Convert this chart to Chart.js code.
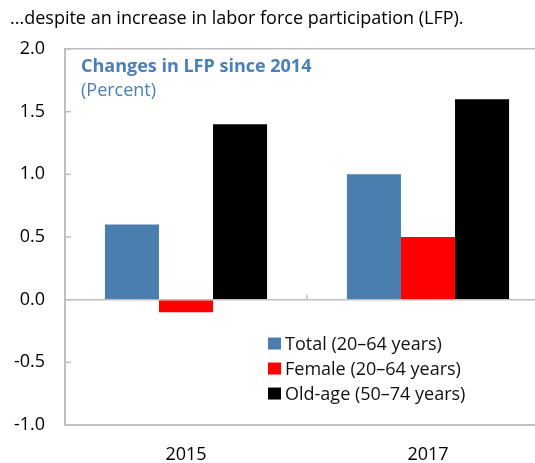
<!DOCTYPE html>
<html>
<head>
<meta charset="utf-8">
<script src="https://cdn.jsdelivr.net/npm/chart.js@4/dist/chart.umd.min.js"></script>
<style>
html,body{margin:0;padding:0;overflow:hidden;background:#fff;width:535px;height:463px;}
#wrap{width:550px;height:463px;}
</style>
</head>
<body>
<div id="wrap"><canvas id="c" width="550" height="463"></canvas></div>
<script>
const categories = ["2015", "2017"];
const totalValues = [0.6, 1.0];
const femaleValues = [-0.1, 0.5];
const oldAgeValues = [1.4, 1.6];
const seriesLabels = ["Total (20\u201364 years)", "Female (20\u201364 years)", "Old-age (50\u201374 years)"];
const yTicks = [-1.0, -0.5, 0.0, 0.5, 1.0, 1.5, 2.0];
const chartTitle = "...despite an increase in labor force participation (LFP).";
const innerTitle = "Changes in LFP since 2014";
const innerSubtitle = "(Percent)";

const FONT = "'Open Sans', 'Noto Sans', sans-serif";
const GRID = "#bfbfbf";
const BLUE_TXT = "#4a80b8";

const overlay = {
  id: "overlay",
  afterDatasetsDraw(chart) {
    const ctx = chart.ctx;
    const ca = chart.chartArea;
    const y = chart.scales.y;
    const x = chart.scales.x;
    ctx.save();
    // inward y tick marks
    ctx.strokeStyle = GRID;
    ctx.lineWidth = 1.5;
    yTicks.forEach(v => {
      const py = y.getPixelForValue(v);
      ctx.beginPath();
      ctx.moveTo(ca.left, py);
      ctx.lineTo(ca.left + 6, py);
      ctx.stroke();
    });
    // category boundary tick on zero line
    const z = y.getPixelForValue(0);
    const mid = (x.getPixelForValue(0) + x.getPixelForValue(1)) / 2;
    ctx.beginPath();
    ctx.moveTo(mid, z);
    ctx.lineTo(mid, z - 5);
    ctx.stroke();
    // inner title
    ctx.fillStyle = BLUE_TXT;
    ctx.textBaseline = "middle";
    ctx.textAlign = "left";
    ctx.font = "bold 18px " + FONT;
    ctx.fillText(innerTitle, ca.left + 16, ca.top + 18);
    ctx.font = "18px " + FONT;
    ctx.fillText(innerSubtitle, ca.left + 16, ca.top + 42);
    // legend
    const lx = ca.left + 203;
    let ly = y.getPixelForValue(-0.35);
    chart.data.datasets.forEach((ds, i) => {
      const cy = ly + i * 25;
      ctx.fillStyle = ds.backgroundColor;
      ctx.fillRect(lx, cy - 6, 13, 12);
      ctx.fillStyle = "#111";
      ctx.font = "18px " + FONT;
      ctx.fillText(ds.label, lx + 17, cy + 1);
    });
    ctx.restore();
  }
};

new Chart(document.getElementById("c"), {
  type: "bar",
  data: {
    labels: categories,
    datasets: [
      { label: seriesLabels[0], data: totalValues, backgroundColor: "#4a7eae" },
      { label: seriesLabels[1], data: femaleValues, backgroundColor: "#ff0000" },
      { label: seriesLabels[2], data: oldAgeValues, backgroundColor: "#000000" }
    ]
  },
  options: {
    responsive: false,
    animation: false,
    layout: { padding: { left: 10, right: 1, top: 0, bottom: 0 }, autoPadding: false },
    datasets: { bar: { barPercentage: 1.0, categoryPercentage: 0.67 } },
    plugins: {
      legend: { display: false },
      tooltip: { enabled: false },
      title: {
        display: true,
        text: chartTitle,
        align: "start",
        color: "#000",
        font: { family: FONT, size: 18, weight: "normal" },
        padding: { top: 8, bottom: 19.4 }
      }
    },
    scales: {
      x: {
        grid: { display: false, drawTicks: false },
        border: { display: true, color: GRID, width: 2 },
        ticks: { color: "#000", font: { family: FONT, size: 18 }, padding: 19 },
        afterFit(s) { s.height = 38; }
      },
      y: {
        min: -1, max: 2,
        afterBuildTicks(s) { s.ticks = yTicks.map(v => ({ value: v })); },
        grid: {
          drawTicks: false,
          color: c => (c.tick && (c.tick.value === 2 || c.tick.value === 0)) ? GRID : "rgba(0,0,0,0)",
          lineWidth: 1.5
        },
        border: { display: true, color: GRID, width: 2 },
        ticks: {
          color: "#000",
          font: { family: FONT, size: 18 },
          padding: 20,
          callback: v => Number(v).toFixed(1)
        },
        afterFit(s) { s.width = 55; }
      }
    }
  },
  plugins: [overlay]
});
</script>
</body>
</html>
